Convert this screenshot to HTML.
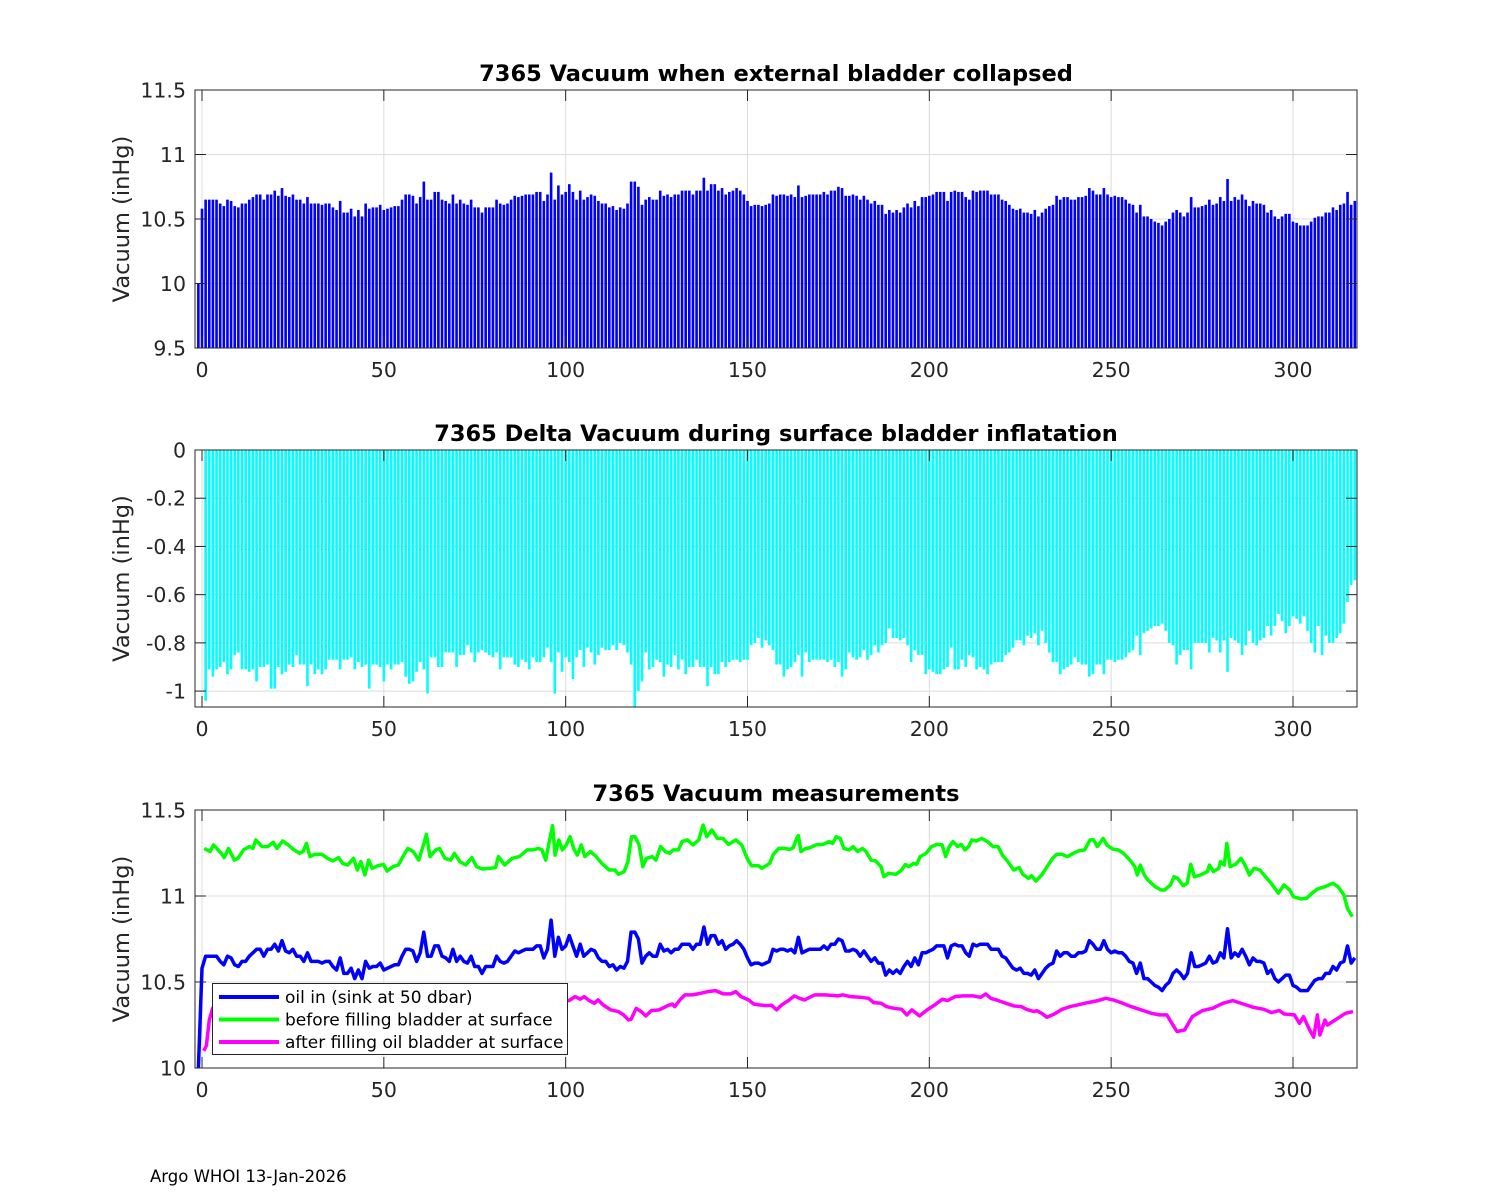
<!DOCTYPE html>
<html><head><meta charset="utf-8"><title>7365 Vacuum</title>
<style>
html,body{margin:0;padding:0;background:#fff;}
svg{display:block;font-family:"DejaVu Sans","Liberation Sans",sans-serif;}
</style></head>
<body>
<svg id="fig" width="1500" height="1200" viewBox="0 0 1500 1200" xmlns="http://www.w3.org/2000/svg">
<rect x="0" y="0" width="1500" height="1200" fill="#fff"/>
<text x="150" y="1182" font-size="16.5" fill="#000">Argo WHOI 13-Jan-2026</text>
</svg>
<script>
// ---- data ----
const blueStart = -1;
const blueVals = [10.0,
10.58,10.65,10.65,10.65,10.65,10.62,10.60,10.65,10.64,10.60,10.59,10.62,10.62,10.65,10.67,10.69,10.69,10.65,10.69,10.69,10.72,10.68,10.74,10.68,10.67,10.69,10.65,10.65,10.62,10.67,10.62,10.62,10.62,10.61,10.62,10.62,10.59,10.57,10.64,10.55,10.55,10.58,10.52,10.57,10.52,10.62,10.58,10.59,10.59,10.61,10.57,10.58,10.59,10.60,10.60,10.65,10.69,10.69,10.68,10.62,10.67,10.79,10.65,10.65,10.71,10.71,10.65,10.64,10.62,10.69,10.62,10.65,10.62,10.61,10.65,10.59,10.59,10.55,10.59,10.59,
10.59,10.65,10.62,10.61,10.62,10.65,10.68,10.67,10.68,10.69,10.69,10.69,10.71,10.71,10.64,10.69,10.86,10.65,10.76,10.69,10.71,10.77,10.71,10.65,10.72,10.65,10.67,10.69,10.68,10.64,10.62,10.62,10.59,10.60,10.57,10.59,10.58,10.62,10.79,10.79,10.75,10.61,10.65,10.67,10.65,10.65,10.72,10.68,10.69,10.67,10.69,10.69,10.72,10.72,10.72,10.69,10.72,10.72,10.82,10.72,10.77,10.77,10.72,10.74,10.69,10.71,10.72,10.74,10.72,10.69,10.64,10.60,10.61,10.61,10.60,10.61,10.62,10.69,10.68,10.69,10.69,10.68,
10.69,10.67,10.76,10.67,10.68,10.69,10.69,10.69,10.69,10.71,10.69,10.72,10.72,10.75,10.74,10.68,10.68,10.69,10.68,10.65,10.68,10.65,10.62,10.64,10.61,10.61,10.54,10.57,10.55,10.57,10.55,10.59,10.62,10.59,10.64,10.60,10.67,10.67,10.68,10.69,10.71,10.71,10.71,10.64,10.71,10.72,10.71,10.71,10.67,10.65,10.72,10.71,10.72,10.72,10.72,10.69,10.69,10.69,10.65,10.64,10.61,10.58,10.57,10.58,10.55,10.55,10.54,10.57,10.52,10.55,10.58,10.60,10.61,10.68,10.65,10.67,10.67,10.65,10.65,10.67,10.67,10.68,
10.74,10.72,10.69,10.69,10.74,10.69,10.67,10.68,10.67,10.67,10.65,10.62,10.61,10.55,10.61,10.52,10.52,10.50,10.48,10.47,10.45,10.48,10.50,10.55,10.57,10.55,10.52,10.55,10.67,10.59,10.59,10.60,10.61,10.65,10.61,10.62,10.67,10.64,10.81,10.64,10.67,10.65,10.69,10.65,10.60,10.64,10.62,10.62,10.61,10.55,10.57,10.52,10.50,10.52,10.54,10.54,10.48,10.47,10.45,10.45,10.45,10.48,10.51,10.52,10.52,10.55,10.55,10.59,10.57,10.61,10.62,10.71,10.61,10.64];

const deltaStart = 1;
const deltaVals = [
-1.04,-0.91,-0.94,-0.91,-0.90,-0.88,-0.93,-0.91,-0.85,-0.84,-0.91,-0.91,-0.92,-0.91,-0.96,-0.90,-0.90,-0.89,-0.99,-0.99,-0.90,-0.93,-0.92,-0.89,-0.90,-0.85,-0.89,-0.89,-0.98,-0.89,-0.93,-0.91,-0.93,-0.91,-0.87,-0.87,-0.87,-0.91,-0.87,-0.87,-0.86,-0.91,-0.88,-0.90,-0.89,-0.99,-0.89,-0.89,-0.90,-0.96,-0.89,-0.91,-0.89,-0.89,-0.88,-0.94,-0.97,-0.96,-0.92,-0.88,-0.91,-1.01,-0.86,-0.86,-0.90,-0.90,-0.84,-0.84,-0.84,-0.90,-0.85,-0.85,-0.81,-0.84,-0.88,-0.84,-0.83,-0.84,-0.85,
-0.86,-0.84,-0.91,-0.86,-0.86,-0.86,-0.89,-0.90,-0.87,-0.88,-0.91,-0.86,-0.88,-0.88,-0.86,-0.82,-0.88,-1.01,-0.84,-0.92,-0.86,-0.88,-0.95,-0.86,-0.83,-0.90,-0.82,-0.84,-0.89,-0.85,-0.82,-0.83,-0.83,-0.81,-0.83,-0.80,-0.81,-0.84,-0.89,-1.066,-1.00,-0.96,-0.84,-0.91,-0.90,-0.87,-0.88,-0.94,-0.89,-0.90,-0.85,-0.91,-0.87,-0.93,-0.90,-0.90,-0.87,-0.90,-0.90,-0.98,-0.90,-0.93,-0.93,-0.88,-0.90,-0.88,-0.87,-0.87,-0.88,-0.87,-0.87,-0.81,-0.80,-0.78,-0.82,-0.79,-0.81,-0.83,-0.89,-0.89,-0.94,-0.91,
-0.90,-0.88,-0.85,-0.94,-0.84,-0.88,-0.87,-0.87,-0.87,-0.87,-0.88,-0.87,-0.90,-0.88,-0.94,-0.91,-0.84,-0.86,-0.87,-0.86,-0.83,-0.87,-0.85,-0.81,-0.84,-0.81,-0.80,-0.74,-0.78,-0.78,-0.79,-0.78,-0.81,-0.88,-0.83,-0.85,-0.85,-0.93,-0.91,-0.92,-0.93,-0.93,-0.91,-0.90,-0.82,-0.91,-0.91,-0.87,-0.90,-0.85,-0.86,-0.91,-0.90,-0.91,-0.93,-0.89,-0.88,-0.88,-0.88,-0.85,-0.84,-0.82,-0.79,-0.79,-0.81,-0.77,-0.78,-0.76,-0.81,-0.75,-0.80,-0.84,-0.88,-0.88,-0.93,-0.91,-0.90,-0.89,-0.86,-0.88,-0.89,-0.89,
-0.94,-0.93,-0.89,-0.89,-0.93,-0.87,-0.87,-0.88,-0.87,-0.87,-0.86,-0.84,-0.83,-0.77,-0.85,-0.76,-0.75,-0.74,-0.73,-0.73,-0.72,-0.75,-0.80,-0.81,-0.89,-0.85,-0.83,-0.83,-0.91,-0.80,-0.80,-0.80,-0.80,-0.84,-0.78,-0.79,-0.84,-0.79,-0.92,-0.78,-0.79,-0.80,-0.85,-0.81,-0.75,-0.80,-0.81,-0.79,-0.78,-0.73,-0.77,-0.73,-0.68,-0.71,-0.76,-0.73,-0.69,-0.70,-0.72,-0.69,-0.75,-0.80,-0.84,-0.73,-0.85,-0.77,-0.80,-0.80,-0.78,-0.76,-0.72,-0.63,-0.56,-0.54];

const greenX = [0.6,2.2,3.2,5.3,6.1,7.3,8.9,9.9,11.4,13.0,14.0,14.8,16.5,18.1,19.6,20.6,22.2,23.7,25.3,26.8,27.8,28.7,29.7,30.9,33.0,34.5,36.0,37.6,38.6,40.1,41.7,42.7,43.7,44.8,45.8,46.8,48.4,49.9,50.9,52.5,54.0,55.0,56.6,58.1,59.6,60.9,61.7,62.7,64.3,65.3,66.8,68.4,69.4,70.9,72.5,74.2,75.5,77.1,79.1,80.7,81.5,83.2,85.3,87.3,89.4,90.9,92.5,93.5,94.5,95.5,96.4,97.1,98.1,99.1,100.2,101.2,102.2,103.2,104.3,105.3,106.8,108.4,109.9,112.0,113.5,114.5,116.1,117.1,118.1,119.1,120.2,121.2,122.2,123.8,124.8,126.1,127.4,128.6,129.6,131.0,132.0,133.5,135.0,136.6,137.8,138.8,140.2,141.7,143.2,144.8,146.8,148.4,149.9,151.1,153.0,154.0,156.1,157.1,158.6,
160.1,161.6,162.6,163.5,164.0,164.7,165.7,167.2,168.8,170.8,172.4,173.4,174.4,175.5,176.5,178.0,179.0,180.3,181.6,182.6,184.0,185.2,186.7,187.5,188.8,190.8,192.4,193.4,194.4,195.7,196.5,197.5,199.1,200.6,202.1,203.5,204.5,205.5,206.5,207.8,208.8,209.8,210.8,211.7,212.9,214.4,216.0,217.5,218.9,220.1,221.6,223.2,224.7,225.7,227.3,228.1,229.3,230.9,232.4,233.9,235.0,236.5,238.0,239.6,241.1,242.7,244.2,245.2,246.2,247.8,248.8,250.4,251.9,253.4,255.5,256.5,257.2,258.0,259.1,260.1,262.1,263.7,264.7,266.3,267.3,268.3,269.8,270.9,271.9,272.9,274.5,276.5,277.0,278.1,279.6,280.1,281.1,281.8,282.7,284.2,285.7,286.8,288.0,289.3,290.9,292.4,294.0,296.0,297.5,299.1,300.1,302.2,303.7,305.2,306.8,308.8,310.9,312.4,314.0,315.0,316.3];
const greenVals = [11.277,11.258,11.297,11.248,11.223,11.277,11.209,11.219,11.268,11.287,11.277,11.326,11.287,11.287,11.312,11.277,11.320,11.297,11.268,11.248,11.258,11.306,11.229,11.242,11.242,11.219,11.204,11.223,11.190,11.180,11.219,11.151,11.200,11.122,11.209,11.161,11.176,11.184,11.145,11.171,11.180,11.219,11.277,11.258,11.209,11.297,11.359,11.229,11.268,11.277,11.219,11.209,11.248,11.200,11.180,11.223,11.171,11.157,11.161,11.165,11.229,11.180,11.219,11.229,11.268,11.268,11.277,11.268,11.209,11.316,11.409,11.238,11.326,11.268,11.297,11.345,11.277,11.238,11.297,11.229,11.258,11.229,11.190,11.151,11.151,11.126,11.142,11.200,11.345,11.345,11.297,11.171,11.219,11.229,11.209,11.287,11.258,11.248,11.268,11.268,11.316,11.326,11.297,11.326,11.413,11.345,11.384,11.335,11.335,11.300,11.326,11.297,11.219,11.176,11.176,11.161,11.190,11.242,11.277,
11.277,11.271,11.281,11.335,11.351,11.258,11.273,11.281,11.297,11.300,11.316,11.306,11.345,11.335,11.277,11.268,11.287,11.258,11.277,11.258,11.209,11.204,11.171,11.112,11.132,11.126,11.151,11.184,11.171,11.190,11.184,11.229,11.248,11.287,11.300,11.297,11.229,11.287,11.316,11.287,11.300,11.268,11.287,11.326,11.320,11.335,11.316,11.287,11.287,11.238,11.200,11.151,11.165,11.126,11.103,11.118,11.087,11.122,11.171,11.219,11.242,11.242,11.229,11.248,11.262,11.268,11.326,11.326,11.287,11.335,11.297,11.273,11.268,11.248,11.200,11.171,11.122,11.180,11.122,11.093,11.054,11.035,11.035,11.064,11.112,11.103,11.060,11.074,11.184,11.112,11.122,11.142,11.180,11.142,11.161,11.200,11.180,11.306,11.171,11.184,11.219,11.180,11.122,11.161,11.151,11.112,11.074,11.016,11.064,11.035,10.996,10.983,10.986,11.016,11.041,11.054,11.074,11.054,11.006,10.928,10.880];

const magX = [0.5,1.2,2.0,3.0,10,25,40,55,70,85,95,100.9,102.6,104.0,105.1,106.5,107.9,108.9,110.3,112.4,114.5,115.9,117.3,118.0,119.4,120.8,122.0,123.6,125.7,127.9,129.3,130.0,131.4,132.8,134.9,137.0,139.1,141.2,143.3,145.4,146.8,148.2,150.3,151.7,153.1,155.2,156.6,158.0,159.4,161.5,162.9,164.3,165.7,167.1,168.5,171.3,174.8,176.2,178.3,181.1,183.3,184.7,186.8,188.2,190.3,192.4,193.8,195.2,197.3,199.4,201.5,203.6,205.0,207.1,209.2,212.0,214.1,215.5,216.9,219.0,221.1,223.2,225.3,226.7,228.8,229.5,230.9,232.3,234.4,236.5,238.7,240.8,243.6,246.4,248.5,250.6,252.7,255.5,258.3,261.1,263.2,265.3,266.7,268.1,270.2,272.3,275.1,277.9,280.7,283.5,286.3,289.1,292.0,294.1,296.2,297.6,300.4,301.8,302.9,304.6,305.7,306.7,307.4,308.8,309.5,311.6,314.4,316.5];
const magVals = [10.10,10.13,10.28,10.35,10.36,10.38,10.37,10.36,10.38,10.39,10.39,10.392,10.415,10.400,10.415,10.392,10.376,10.396,10.367,10.338,10.328,10.309,10.279,10.283,10.347,10.328,10.303,10.334,10.338,10.361,10.372,10.357,10.396,10.425,10.425,10.434,10.444,10.450,10.431,10.431,10.444,10.415,10.396,10.372,10.367,10.363,10.365,10.338,10.367,10.396,10.419,10.405,10.396,10.411,10.425,10.425,10.419,10.425,10.415,10.411,10.405,10.380,10.376,10.357,10.347,10.341,10.309,10.338,10.303,10.338,10.367,10.400,10.392,10.415,10.419,10.419,10.411,10.431,10.405,10.392,10.376,10.361,10.357,10.341,10.328,10.334,10.318,10.295,10.314,10.341,10.357,10.367,10.380,10.392,10.405,10.396,10.380,10.357,10.338,10.318,10.309,10.309,10.260,10.212,10.221,10.299,10.334,10.347,10.376,10.392,10.372,10.353,10.341,10.322,10.334,10.314,10.309,10.260,10.299,10.221,10.179,10.309,10.192,10.279,10.250,10.279,10.318,10.328];

const xTicks = [0,50,100,150,200,250,300];
const yTicks1 = [9.5,10,10.5,11,11.5];
const yTicks2 = [-1,-0.8,-0.6,-0.4,-0.2,0];
const yTicks3 = [10,10.5,11,11.5];

// ---- drawing ----
const NS = "http://www.w3.org/2000/svg";
const svg = document.getElementById('fig');
const X0 = 195, X1 = 1357, XMIN = -1.925, XMAX = 317.6;
function sx(v){ return X0 + (v - XMIN) / (XMAX - XMIN) * (X1 - X0); }
function mk(tag, attrs, parent){
  const e = document.createElementNS(NS, tag);
  for (const k in attrs) e.setAttribute(k, attrs[k]);
  (parent || svg).appendChild(e);
  return e;
}
function fmt(v){ return v < 0 ? '-' + String(Math.abs(v)) : String(v); }

function axes(id, top, bot, ymin, ymax, yticks, title){
  const sy = v => bot - (v - ymin) / (ymax - ymin) * (bot - top);
  const g = mk('g', {});
  
  
  mk('rect', {x:X0, y:top, width:X1-X0, height:bot-top, fill:'#fff'}, g);
  const grid = mk('g', {stroke:'#dcdcdc', 'stroke-width':1}, g);
  
  
  xTicks.forEach(t => mk('line', {x1:sx(t), x2:sx(t), y1:top, y2:bot}, grid));
  yticks.forEach(t => mk('line', {x1:X0, x2:X1, y1:sy(t), y2:sy(t)}, grid));
  const clipId = 'clip-' + id;
  const cp = mk('clipPath', {id:clipId}, g);
  mk('rect', {x:X0, y:top, width:X1-X0, height:bot-top}, cp);
  const plot = mk('g', {'clip-path':'url(#' + clipId + ')'}, g);
  const frame = mk('g', {}, svg);
  
  
  mk('rect', {x:X0, y:top, width:X1-X0, height:bot-top, fill:'none', stroke:'#262626', 'stroke-width':1}, frame);
  const tl = 11;
  xTicks.forEach(t => {
    const x = sx(t);
    mk('line', {x1:x, x2:x, y1:bot, y2:bot-tl, stroke:'#262626'}, frame);
    mk('line', {x1:x, x2:x, y1:top, y2:top+tl, stroke:'#262626'}, frame);
    const tx = mk('text', {x:x, y:bot+29, 'font-size':20.5, fill:'#262626', 'text-anchor':'middle'}, frame);
    tx.textContent = String(t);
    
    
  });
  yticks.forEach(t => {
    const y = sy(t);
    mk('line', {x1:X0, x2:X0+tl, y1:y, y2:y, stroke:'#262626'}, frame);
    mk('line', {x1:X1, x2:X1-tl, y1:y, y2:y, stroke:'#262626'}, frame);
    const ty = mk('text', {x:X0-9, y:y+7.5, 'font-size':20.5, fill:'#262626', 'text-anchor':'end'}, frame);
    ty.textContent = fmt(t);
    
    
  });
  const ttl = mk('text', {x:(X0+X1)/2, y:top-9, 'font-size':22.5, 'font-weight':'bold', fill:'#000', 'text-anchor':'middle'}, frame);
  ttl.textContent = title;
  
  
  const yl = mk('text', {x:0, y:0, 'font-size':22.5, fill:'#262626', 'text-anchor':'middle', transform:'translate(129,' + ((top+bot)/2) + ') rotate(-90)'}, frame);
  yl.textContent = 'Vacuum (inHg)';
  
  
  return {plot, sy};
}

const unit = (X1 - X0) / (XMAX - XMIN);
const bw = unit * 0.72;

// Panel 1
const p1 = axes('vacuum-collapsed', 90, 348, 9.5, 11.5, yTicks1, '7365 Vacuum when external bladder collapsed');
blueVals.forEach((v, i) => {
  const x = sx(blueStart + i);
  const r = mk('rect', {x:x-bw/2, y:p1.sy(v), width:bw, height:p1.sy(9.5)-p1.sy(v), fill:'#0000ff'}, p1.plot);
  
  
});

// Panel 2
const p2 = axes('delta-vacuum', 450, 707, -1.066, 0, yTicks2, '7365 Delta Vacuum during surface bladder inflatation');
deltaVals.forEach((v, i) => {
  const x = sx(deltaStart + i);
  const r = mk('rect', {x:x-bw/2, y:p2.sy(0), width:bw, height:p2.sy(v)-p2.sy(0), fill:'#00ffff'}, p2.plot);
  
  
});

// Panel 3
const p3 = axes('vacuum-measurements', 810, 1068, 10, 11.5, yTicks3, '7365 Vacuum measurements');
function line(xs, ys, color, name){
  const d = xs.map((x, i) => (i ? 'L' : 'M') + sx(x).toFixed(1) + ',' + p3.sy(ys[i]).toFixed(1)).join('');
  const p = mk('path', {d:d, fill:'none', stroke:color, 'stroke-width':3.5, 'stroke-linejoin':'round'}, p3.plot);
  
  
}
line(magX, magVals, '#ff00ff', 'after-filling-line');
line(greenX, greenVals, '#00ff00', 'before-filling-line');
line(blueVals.map((v, i) => blueStart + i), blueVals, '#0000ff', 'oil-in-line');

// Legend
const lg = mk('g', {});


mk('rect', {x:212.5, y:983.5, width:355, height:71, fill:'#fff', stroke:'#262626', 'stroke-width':1}, lg);
const legendLabels = ['oil in (sink at 50 dbar)', 'before filling bladder at surface', 'after filling oil bladder at surface'];
const legendColors = ['#0000ff', '#00ff00', '#ff00ff'];
legendLabels.forEach((lab, i) => {
  const y = 997 + i * 22.5;
  const e = mk('g', {}, lg);
  
  
  mk('line', {x1:219, x2:279, y1:y, y2:y, stroke:legendColors[i], 'stroke-width':4}, e);
  const t = mk('text', {x:285, y:y+6, 'font-size':17, fill:'#000'}, e);
  t.textContent = lab;
});
</script>
</body></html>
